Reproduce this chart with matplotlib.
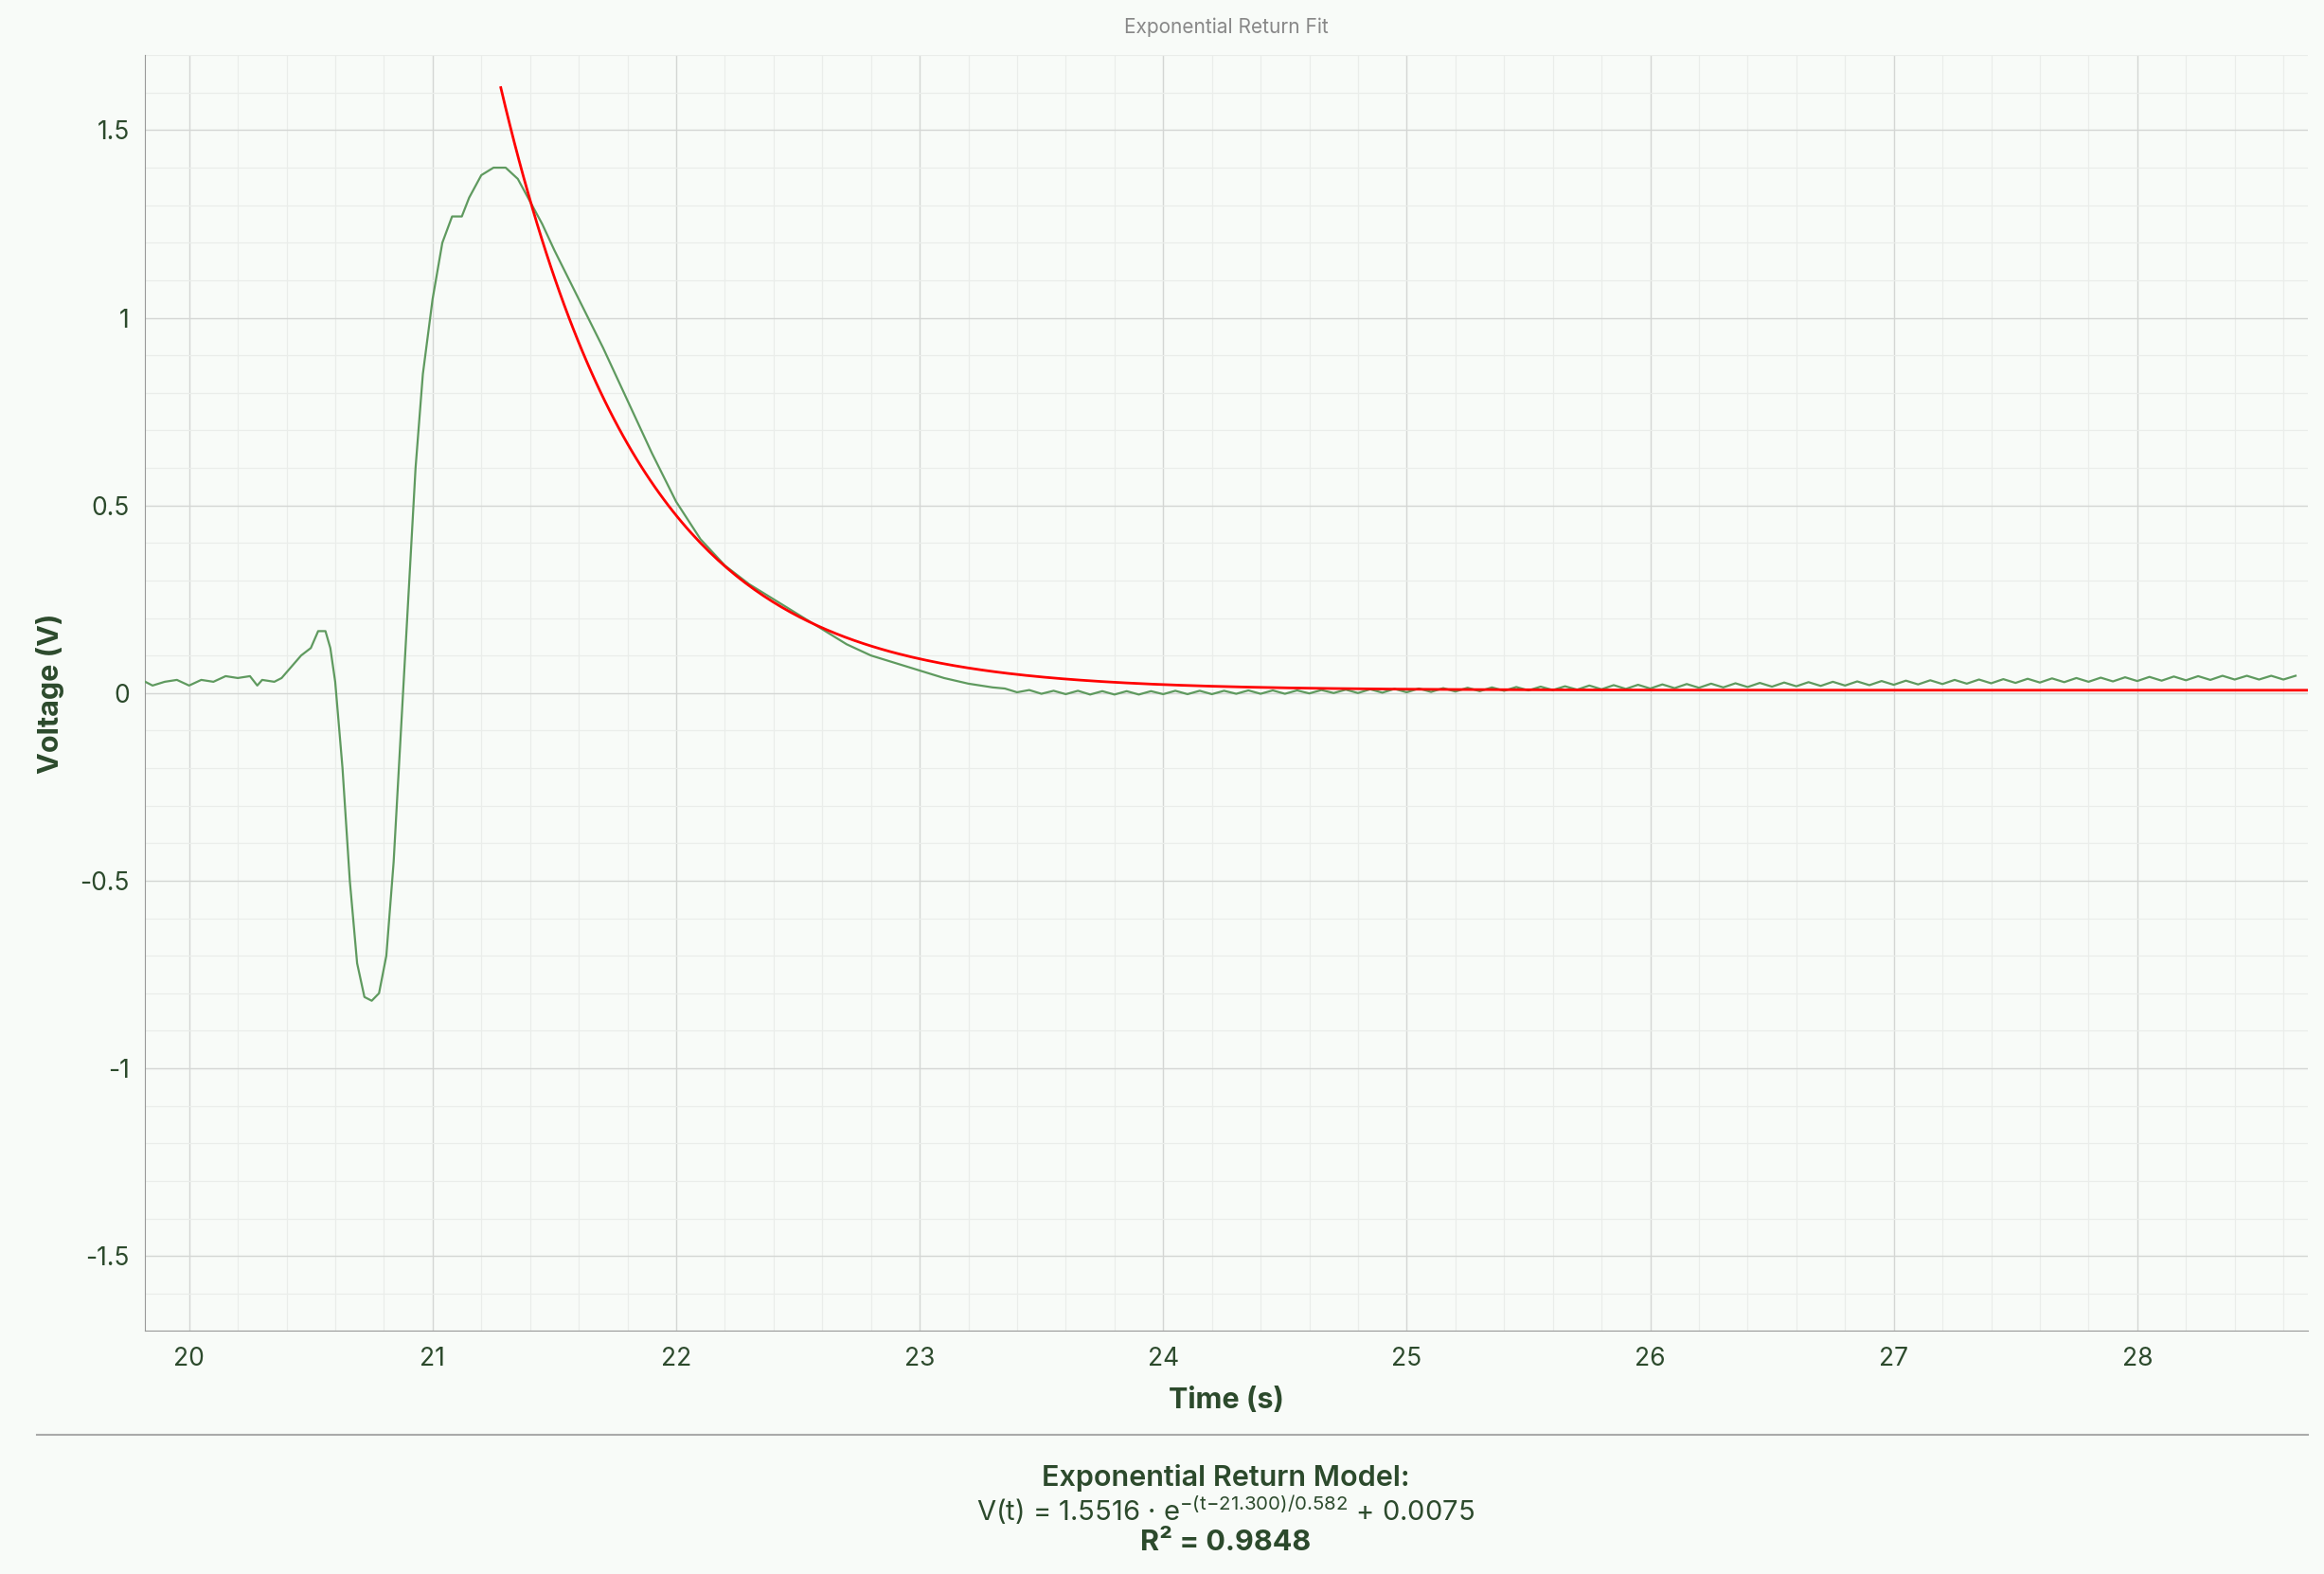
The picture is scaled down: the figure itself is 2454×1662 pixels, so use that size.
import numpy as np
import matplotlib
matplotlib.use("Agg")
import matplotlib.pyplot as plt
from matplotlib.ticker import MultipleLocator, FuncFormatter

plt.rcParams['font.family'] = ['Inter', 'DejaVu Sans']

# Measured signal: event segment
event_t = [19.82, 19.85, 19.9, 19.95, 20.0, 20.05, 20.1, 20.15, 20.2, 20.25, 20.28, 20.3, 20.35, 20.38,
           20.42, 20.46, 20.5, 20.53, 20.56, 20.58, 20.6, 20.63, 20.66, 20.69, 20.72, 20.75, 20.78, 20.81,
           20.84, 20.87, 20.9, 20.93, 20.96, 21.0, 21.04, 21.08, 21.12, 21.15, 21.2, 21.25, 21.3, 21.35,
           21.4, 21.45, 21.5, 21.6, 21.7, 21.8, 21.9, 22.0, 22.1, 22.2, 22.3, 22.4, 22.5, 22.6, 22.7, 22.8,
           22.9, 23.0, 23.1, 23.2, 23.3]
event_v = [0.03, 0.02, 0.03, 0.035, 0.02, 0.035, 0.03, 0.045, 0.04, 0.045, 0.02, 0.035, 0.03, 0.04,
           0.07, 0.10, 0.12, 0.165, 0.165, 0.12, 0.03, -0.2, -0.5, -0.72, -0.81, -0.82, -0.8, -0.7,
           -0.45, -0.1, 0.25, 0.6, 0.85, 1.05, 1.2, 1.27, 1.27, 1.32, 1.38, 1.40, 1.40, 1.37,
           1.31, 1.25, 1.18, 1.05, 0.92, 0.78, 0.64, 0.51, 0.41, 0.34, 0.29, 0.25, 0.21, 0.17, 0.13, 0.10,
           0.08, 0.06, 0.04, 0.025, 0.015]

# Measured signal: tail (starts at 23.35, step 0.05 s)
tail_start = 23.35
tail_step = 0.05
tail_v = [0.012, 0.002, 0.008, -0.002, 0.006, -0.003, 0.006, -0.004, 0.005, -0.004,
          0.005, -0.004, 0.005, -0.003, 0.006, -0.003, 0.006, -0.003, 0.006, -0.002,
          0.007, -0.002, 0.007, -0.002, 0.007, -0.001, 0.008, 0.000, 0.009, 0.000,
          0.010, 0.001, 0.011, 0.002, 0.012, 0.003, 0.013, 0.004, 0.014, 0.005,
          0.015, 0.006, 0.016, 0.007, 0.017, 0.008, 0.018, 0.009, 0.020, 0.010,
          0.021, 0.011, 0.022, 0.012, 0.023, 0.013, 0.024, 0.014, 0.025, 0.015,
          0.026, 0.016, 0.027, 0.017, 0.028, 0.018, 0.029, 0.019, 0.030, 0.020,
          0.031, 0.021, 0.032, 0.022, 0.033, 0.023, 0.034, 0.024, 0.035, 0.025,
          0.036, 0.026, 0.037, 0.027, 0.038, 0.028, 0.039, 0.029, 0.040, 0.030,
          0.041, 0.031, 0.042, 0.032, 0.043, 0.033, 0.044, 0.034, 0.045, 0.035,
          0.046, 0.036, 0.046, 0.036, 0.046, 0.036, 0.046]

# Fit model parameters (from annotation)
fit_A = 1.5516
fit_t0 = 21.300
fit_tau = 0.582
fit_C = 0.0075
fit_r2 = 0.9848
fit_start, fit_end = 21.28, 28.7

tail_t = tail_start + tail_step * np.arange(len(tail_v))
t = np.concatenate([event_t, tail_t])
v = np.concatenate([event_v, tail_v])
tf = np.linspace(fit_start, fit_end, 400)
vf = fit_A * np.exp(-(tf - fit_t0) / fit_tau) + fit_C

bg = '#f8fbf8'
txt = '#2c4a2c'
fig = plt.figure(figsize=(24.54, 16.62), dpi=100, facecolor=bg)
ax = fig.add_axes([0.0625, 0.1544, 0.9305, 0.8106], facecolor=bg)

ax.plot(t, v, color='#5f9a5f', lw=1.6, zorder=3)
ax.plot(tf, vf, color='#ff0000', lw=2.0, zorder=4)

ax.set_xlim(19.82, 28.7)
ax.set_ylim(-1.7, 1.7)
ax.xaxis.set_major_locator(MultipleLocator(1))
ax.xaxis.set_minor_locator(MultipleLocator(0.2))
ax.yaxis.set_major_locator(MultipleLocator(0.5))
ax.yaxis.set_minor_locator(MultipleLocator(0.1))
ax.yaxis.set_major_formatter(FuncFormatter(lambda y, p: f"{y:g}"))
ax.grid(which='major', color='#d4d6d4', lw=1.0)
ax.grid(which='minor', color='#eaedea', lw=0.9)
ax.set_axisbelow(True)
for s in ['top', 'right']:
    ax.spines[s].set_visible(False)
for s in ['left', 'bottom']:
    ax.spines[s].set_color('#999999')
ax.tick_params(which='both', length=0, labelsize=19, colors=txt, pad=12)
ax.set_xlabel('Time (s)', fontsize=22, fontweight='bold', color=txt, labelpad=12)
ax.set_ylabel('Voltage (V)', fontsize=22, fontweight='bold', color=txt, labelpad=12)

fig.text(0.5275, 0.983, 'Exponential Return Fit', ha='center', va='center', fontsize=15, color='#888888')
fig.add_artist(plt.Line2D([0.016, 0.993], [0.0885, 0.0885], color='#aaaaaa', lw=1.5))
fig.text(0.5275, 0.061, 'Exponential Return Model:', ha='center', va='center', fontsize=22, color=txt, fontweight='semibold')
fig.text(0.5275, 0.0405, r'V(t) = %.4f · e$^{\mathregular{{-}(t{-}%.3f)/%.3f}}$ + %.4f' % (fit_A, fit_t0, fit_tau, fit_C),
         ha='center', va='center', fontsize=21, color=txt)
fig.text(0.5275, 0.0198, 'R² = %.4f' % fit_r2, ha='center', va='center', fontsize=22, color=txt, fontweight='bold')

fig.savefig('out.png', dpi=100, facecolor=bg)
